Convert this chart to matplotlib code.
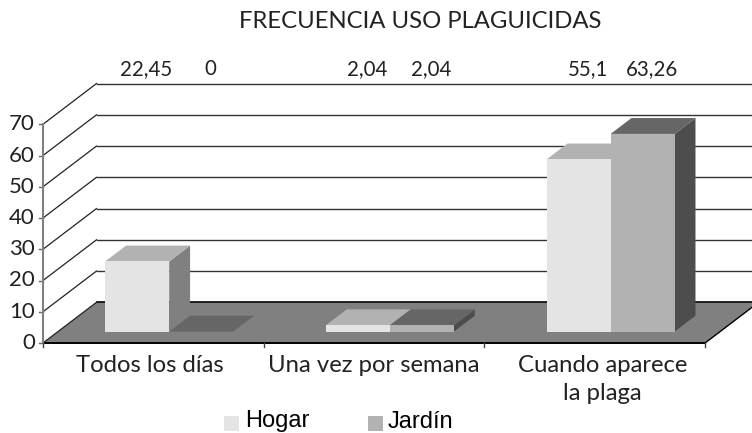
import matplotlib
matplotlib.use("Agg")
import matplotlib.pyplot as plt
from matplotlib.patches import Polygon, Rectangle

# Datos
categorias = ["Todos los días", "Una vez por semana", "Cuando aparece\nla plaga"]
hogar = [22.45, 2.04, 55.1]
jardin = [0, 2.04, 63.26]
etiquetas_hogar = ["22,45", "2,04", "55,1"]
etiquetas_jardin = ["0", "2,04", "63,26"]
ticks_y = [0, 10, 20, 30, 40, 50, 60, 70]

# Geometria de la proyeccion, en pixeles de la imagen
X0, Y0 = 43, 343
ANCHO_CAT = 220.7
PX_UNIDAD = 3.125
DX, DY = 53.5, 40.7
ANCHO_BARRA = 0.29
P1, P2 = 0.28, 0.67
DESPLAZA = 0.004
# Ajuste horizontal de las etiquetas de categoria
AJUSTE_CAT = [-3.5, -0.5, 8]

plt.rcParams['font.family'] = ['Lato', 'DejaVu Sans']

fig = plt.figure(figsize=(7.52, 4.33), dpi=100)
ax = fig.add_axes([0, 0, 1, 1])
ax.set_xlim(0, 752)
ax.set_ylim(433, 0)
ax.axis('off')


def proy(x, v, p=0):
    """Pasa categoria, valor y profundidad a pixeles."""
    return X0 + x * ANCHO_CAT + p * DX, Y0 - v * PX_UNIDAD - p * DY


def caja(x0, x1, v, frente, arriba, lado):
    """Dibuja una barra 3D: lado, tapa y frente."""
    ax.add_patch(Polygon([proy(x1, 0, P1), proy(x1, 0, P2), proy(x1, v, P2), proy(x1, v, P1)],
                         fc=lado, ec='none', zorder=3))
    ax.add_patch(Polygon([proy(x0, v, P1), proy(x1, v, P1), proy(x1, v, P2), proy(x0, v, P2)],
                         fc=arriba, ec='none', zorder=3))
    ax.add_patch(Polygon([proy(x0, 0, P1), proy(x1, 0, P1), proy(x1, v, P1), proy(x0, v, P1)],
                         fc=frente, ec='none', zorder=3))


n = len(categorias)

# Suelo
ax.add_patch(Polygon([proy(0, 0), proy(n, 0), proy(n, 0, 1), proy(0, 0, 1)],
                     fc='#808080', ec='none', zorder=1))
ax.plot(*zip(proy(0, 0, 1), proy(n, 0, 1)), color='black', lw=1.2, zorder=2)
ax.plot(*zip(proy(0, 0), proy(n, 0)), color='black', lw=1.4, zorder=2)
ax.plot(*zip(proy(n, 0), proy(n, 0, 1)), color='black', lw=1, zorder=2)

# Rejilla
for t in ticks_y:
    ax.plot(*zip(proy(0, t), proy(0, t, 1)), color='#222222', lw=0.9, zorder=2)
    if t > 0:
        ax.plot(*zip(proy(0, t, 1), proy(n, t, 1)), color='#333333', lw=1, zorder=2)
    xt, yt = proy(0, t)
    ax.plot([xt - 4, xt], [yt, yt], color='#666666', lw=1, zorder=2)
    ax.text(xt - 8, yt, str(t), ha='right', va='center', fontsize=16, color='#222222')

# Ejes
ax.plot(*zip(proy(0, 0), proy(0, 70)), color='#808080', lw=1.5, zorder=2)
for i in range(n + 1):
    xt, yt = proy(i, 0)
    ax.plot([xt, xt], [yt, yt + 4], color='#444444', lw=1, zorder=2)

# Barras
for i in range(n):
    c = i + 0.5 + DESPLAZA
    caja(c - ANCHO_BARRA, c, hogar[i], '#e4e4e4', '#b2b2b2', '#808080')
    caja(c, c + ANCHO_BARRA, jardin[i], '#b2b2b2', '#666666', '#4d4d4d')

    # Etiquetas de datos, en fila sobre la pared del fondo
    xm, _ = proy(c, 0, P1)
    ax.text(xm - 23, 69, etiquetas_hogar[i], ha='center', va='center', fontsize=14.8, color='#222222')
    ax.text(xm + 41, 69, etiquetas_jardin[i], ha='center', va='center', fontsize=14.8, color='#222222')

    # Etiquetas de categoria
    xc = proy(i + 0.5, 0)[0] + AJUSTE_CAT[i]
    for linea, y in zip(categorias[i].split('\n'), [366, 394]):
        ax.text(xc, y, linea, ha='center', va='center', fontsize=17.2, color='#222222')

ax.text(239, 22, "FRECUENCIA USO PLAGUICIDAS", ha='left', va='center', fontsize=17.2, color='#222222')

# Leyenda
ax.add_patch(Rectangle((224, 416), 15, 15, fc='#e4e4e4', ec='none'))
ax.add_patch(Rectangle((368, 416), 15, 15, fc='#b2b2b2', ec='none'))
ax.text(245, 421, "Hogar", ha='left', va='center', fontsize=17, family='Liberation Sans', color='black')
ax.text(388, 422, "Jardín", ha='left', va='center', fontsize=17, family='Liberation Sans', color='black')

fig.savefig('out.png', dpi=100)
